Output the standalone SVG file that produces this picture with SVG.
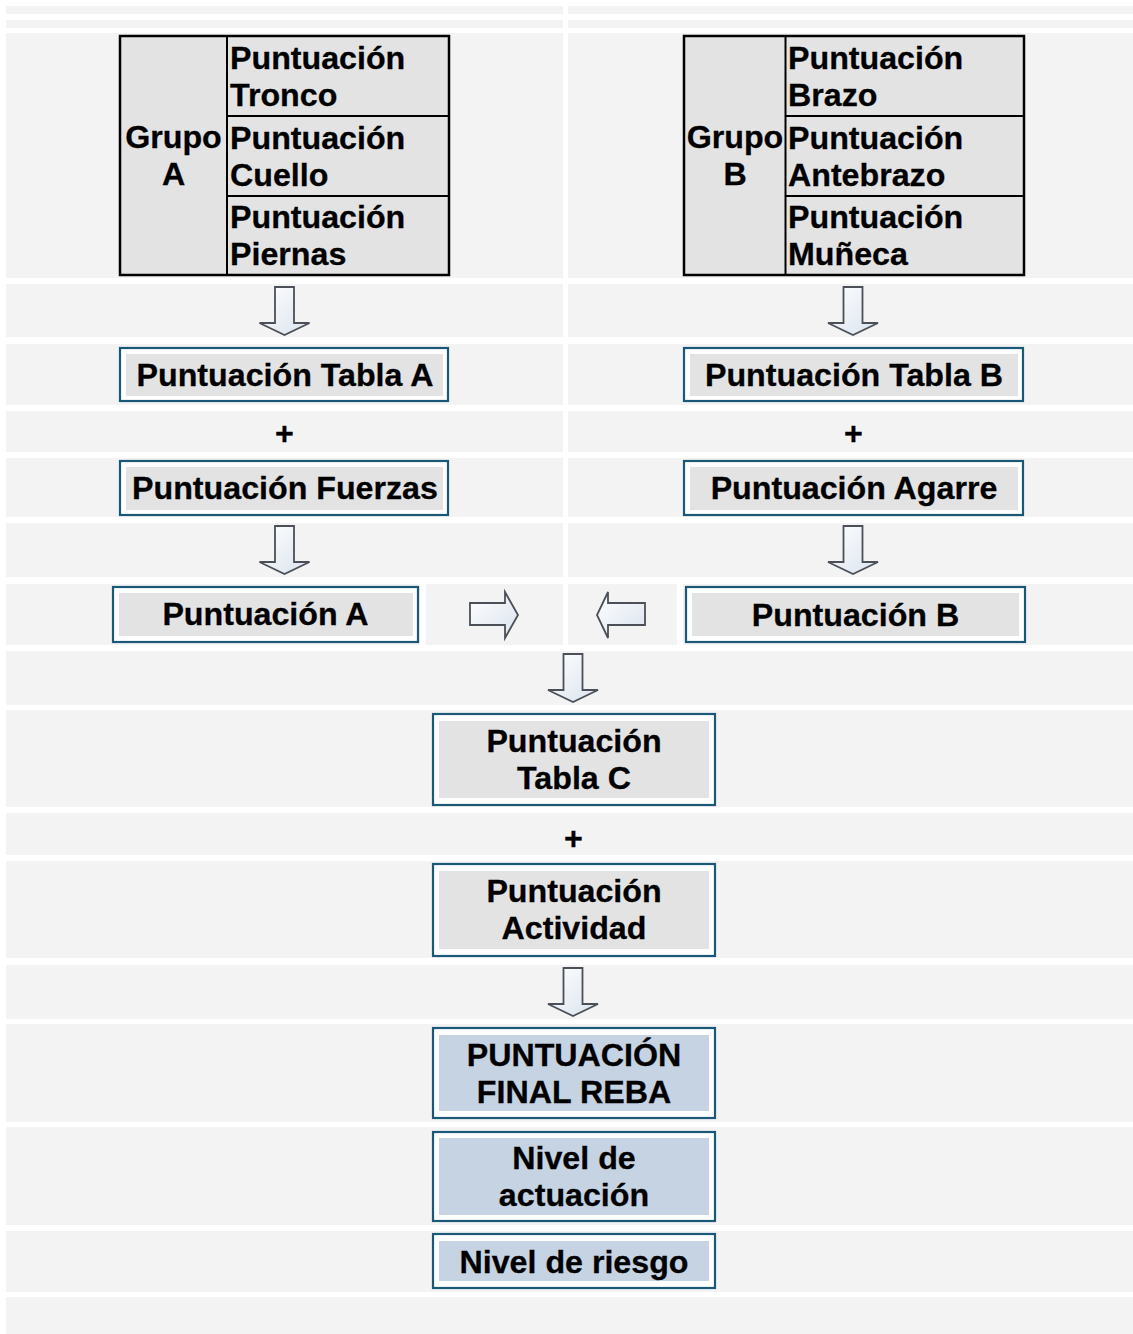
<svg xmlns="http://www.w3.org/2000/svg" width="1133" height="1334" viewBox="0 0 1133 1334">
<defs>
<style>
.cell{fill:#f3f3f3}
.t{font-family:"Liberation Sans",Arial,sans-serif;font-weight:bold;font-size:32.2px;fill:#000;stroke:#000;stroke-width:0.3}
.c{text-anchor:middle}
.frame{fill:#fff;stroke:#1a5878;stroke-width:2.2}
.in{fill:#e3e3e3}
.inb{fill:#c5d3e2}
.tbl{fill:#e3e3e3;stroke:#000;stroke-width:2.5}
.ln{stroke:#000;stroke-width:2}
.arr{fill:url(#ag);stroke:#4b5058;stroke-width:1.8;stroke-linejoin:miter}
</style>
<linearGradient id="ag" x1="0" y1="0" x2="1" y2="1">
<stop offset="0" stop-color="#ffffff"/>
<stop offset="1" stop-color="#dae3ee"/>
</linearGradient>
<path id="down" d="M-9.5,0 H9.5 V36 H25 L0,48 L-25,36 H-9.5 Z"/>
</defs>
<rect width="1133" height="1334" fill="#fff"/>
<g id="background">
<rect class="cell" x="6" y="6" width="557" height="8"/>
<rect class="cell" x="568" y="6" width="565" height="8"/>
<rect class="cell" x="6" y="20" width="557" height="8"/>
<rect class="cell" x="568" y="20" width="565" height="8"/>
<rect class="cell" x="6" y="33" width="557" height="245"/>
<rect class="cell" x="568" y="33" width="565" height="245"/>
<rect class="cell" x="6" y="284" width="557" height="53"/>
<rect class="cell" x="568" y="284" width="565" height="53"/>
<rect class="cell" x="6" y="344" width="557" height="61"/>
<rect class="cell" x="568" y="344" width="565" height="61"/>
<rect class="cell" x="6" y="411" width="557" height="41"/>
<rect class="cell" x="568" y="411" width="565" height="41"/>
<rect class="cell" x="6" y="458" width="557" height="59"/>
<rect class="cell" x="568" y="458" width="565" height="59"/>
<rect class="cell" x="6" y="523" width="557" height="54"/>
<rect class="cell" x="568" y="523" width="565" height="54"/>
<rect class="cell" x="6" y="584" width="414" height="61"/>
<rect class="cell" x="426" y="584" width="137" height="61"/>
<rect class="cell" x="568" y="584" width="109" height="61"/>
<rect class="cell" x="683" y="584" width="450" height="61"/>
<rect class="cell" x="6" y="651" width="1127" height="54"/>
<rect class="cell" x="6" y="710" width="1127" height="97"/>
<rect class="cell" x="6" y="813" width="1127" height="42"/>
<rect class="cell" x="6" y="861" width="1127" height="97"/>
<rect class="cell" x="6" y="965" width="1127" height="54"/>
<rect class="cell" x="6" y="1024" width="1127" height="98"/>
<rect class="cell" x="6" y="1127" width="1127" height="98"/>
<rect class="cell" x="6" y="1231" width="1127" height="61"/>
<rect class="cell" x="6" y="1297" width="1127" height="37"/>
</g>
<g id="grupo-a">
<rect class="tbl" x="120" y="36" width="329" height="239"/>
<line class="ln" x1="227" y1="36" x2="227" y2="275"/>
<line class="ln" x1="227" y1="116" x2="449" y2="116"/>
<line class="ln" x1="227" y1="196" x2="449" y2="196"/>
<text class="t c" x="173.5" y="148">Grupo</text>
<text class="t c" x="173.5" y="185">A</text>
<text class="t" x="230" y="69">Puntuación</text>
<text class="t" x="230" y="106">Tronco</text>
<text class="t" x="230" y="149">Puntuación</text>
<text class="t" x="230" y="186">Cuello</text>
<text class="t" x="230" y="228">Puntuación</text>
<text class="t" x="230" y="265">Piernas</text>
</g>
<g id="grupo-b">
<rect class="tbl" x="684" y="36" width="340" height="239"/>
<line class="ln" x1="785.5" y1="36" x2="785.5" y2="275"/>
<line class="ln" x1="785.5" y1="116" x2="1024" y2="116"/>
<line class="ln" x1="785.5" y1="196" x2="1024" y2="196"/>
<text class="t c" x="735" y="148">Grupo</text>
<text class="t c" x="735" y="185">B</text>
<text class="t" x="788" y="69">Puntuación</text>
<text class="t" x="788" y="106">Brazo</text>
<text class="t" x="788" y="149">Puntuación</text>
<text class="t" x="788" y="186">Antebrazo</text>
<text class="t" x="788" y="228">Puntuación</text>
<text class="t" x="788" y="265">Muñeca</text>
</g>
<g id="tabla-a">
<rect class="frame" x="120" y="348" width="328" height="53"/>
<rect class="in" x="126" y="354" width="317" height="42"/>
<text class="t c" x="285" y="386">Puntuación Tabla A</text>
</g>
<g id="tabla-b">
<rect class="frame" x="684" y="348" width="339" height="53"/>
<rect class="in" x="690" y="354" width="328" height="42"/>
<text class="t c" x="854" y="386">Puntuación Tabla B</text>
</g>
<g id="fuerzas">
<rect class="frame" x="120" y="461" width="328" height="54"/>
<rect class="in" x="126" y="467" width="317" height="43"/>
<text class="t c" x="285" y="499">Puntuación Fuerzas</text>
</g>
<g id="agarre">
<rect class="frame" x="684" y="461" width="339" height="54"/>
<rect class="in" x="690" y="467" width="328" height="43"/>
<text class="t c" x="854" y="499">Puntuación Agarre</text>
</g>
<g id="puntuacion-a">
<rect class="frame" x="113" y="587" width="305" height="55"/>
<rect class="in" x="119" y="593" width="294" height="43"/>
<text class="t c" x="265.5" y="625">Puntuación A</text>
</g>
<g id="puntuacion-b">
<rect class="frame" x="686" y="587" width="339" height="55"/>
<rect class="in" x="692" y="593" width="327" height="43"/>
<text class="t c" x="855.5" y="626">Puntuación B</text>
</g>
<g id="tabla-c">
<rect class="frame" x="433" y="714" width="282" height="91"/>
<rect class="in" x="439" y="721" width="270" height="77"/>
<text class="t c" x="574" y="752">Puntuación</text>
<text class="t c" x="574" y="789">Tabla C</text>
</g>
<g id="actividad">
<rect class="frame" x="433" y="864" width="282" height="92"/>
<rect class="in" x="439" y="871" width="270" height="78"/>
<text class="t c" x="574" y="902">Puntuación</text>
<text class="t c" x="574" y="939">Actividad</text>
</g>
<g id="final-reba">
<rect class="frame" x="433" y="1028" width="282" height="90"/>
<rect class="inb" x="439" y="1035" width="270" height="76"/>
<text class="t c" x="574" y="1066">PUNTUACIÓN</text>
<text class="t c" x="574" y="1103">FINAL REBA</text>
</g>
<g id="nivel-actuacion">
<rect class="frame" x="433" y="1132" width="282" height="89"/>
<rect class="inb" x="439" y="1138" width="270" height="77"/>
<text class="t c" x="574" y="1169">Nivel de</text>
<text class="t c" x="574" y="1206">actuación</text>
</g>
<g id="nivel-riesgo">
<rect class="frame" x="433" y="1234" width="282" height="54"/>
<rect class="inb" x="439" y="1241" width="270" height="40"/>
<text class="t c" x="574" y="1273">Nivel de riesgo</text>
</g>
<g id="connectors">
<use href="#down" class="arr" x="284.5" y="287"/>
<use href="#down" class="arr" x="853" y="287"/>
<use href="#down" class="arr" x="284.5" y="526"/>
<use href="#down" class="arr" x="853" y="526"/>
<use href="#down" class="arr" x="573" y="654"/>
<use href="#down" class="arr" x="573" y="968"/>
<path class="arr" d="M470,603 H505 V592 L518,615 L505,638 V625 H470 Z"/>
<path class="arr" d="M645,603 H608 V592 L597,615 L608,638 V625 H645 Z"/>
<text class="t c" x="284.5" y="444">+</text>
<text class="t c" x="853.5" y="444">+</text>
<text class="t c" x="573.5" y="849">+</text>
</g>
</svg>
